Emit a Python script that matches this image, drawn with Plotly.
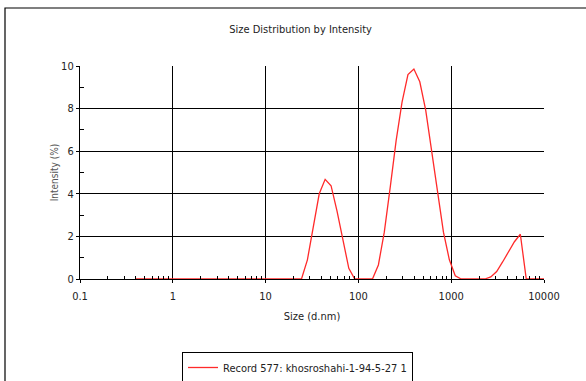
import plotly.graph_objects as go

sizes = [0.4, 0.4632, 0.5365, 0.6213, 0.7195, 0.8332, 0.9649, 1.117, 1.294, 1.499,
         1.736, 2.010, 2.328, 2.696, 3.122, 3.615, 4.187, 4.849, 5.615, 6.503,
         7.531, 8.721, 10.10, 11.70, 13.54, 15.69, 18.17, 21.04, 24.36, 28.21,
         32.67, 37.84, 43.82, 50.75, 58.77, 68.06, 78.82, 91.28, 105.7, 122.4,
         141.8, 164.2, 190.1, 220.2, 255.0, 295.3, 342.0, 396.1, 458.7, 531.2,
         615.1, 712.4, 825.0, 955.4, 1106, 1281, 1484, 1718, 1990, 2305,
         2669, 3091, 3580, 4145, 4801, 5560, 6439, 7456, 8635, 10000]
intensity = [0, 0, 0, 0, 0, 0, 0, 0, 0, 0,
             0, 0, 0, 0, 0, 0, 0, 0, 0, 0,
             0, 0, 0, 0, 0, 0, 0, 0, 0, 0.9,
             2.4, 4.0, 4.68, 4.38, 3.2, 1.9, 0.5, 0, 0, 0,
             0, 0.66, 2.2, 4.3, 6.5, 8.3, 9.6, 9.86, 9.26, 7.93,
             6.0, 4.0, 2.2, 0.9, 0.15, 0, 0, 0, 0, 0,
             0.1, 0.35, 0.8, 1.3, 1.75, 2.1, 0, 0, 0, 0]
series_name = "Record 577: khosroshahi-1-94-5-27 1"
x_ticks = [0.1, 1, 10, 100, 1000, 10000]
x_tick_labels = ["0.1", "1", "10", "100", "1000", "10000"]
y_ticks = [0, 2, 4, 6, 8, 10]

FONT = "Liberation Sans Narrow, DejaVu Sans Condensed, Liberation Sans, Arial, sans-serif"

fig = go.Figure()
fig.add_trace(go.Scatter(x=sizes, y=intensity, mode="lines", name=series_name,
                         line=dict(color="#ff2a2a", width=1.3), showlegend=True))

x_minor = [m * 10 ** e for e in range(-1, 4) for m in range(2, 10)]

PW, PH = 464, 213
fig.update_layout(
    width=586, height=381,
    margin=dict(l=80, r=42, t=66, b=102, autoexpand=False),
    paper_bgcolor="white", plot_bgcolor="white",
    font=dict(family=FONT, size=11, color="#222"),
    title=dict(text="Size Distribution by Intensity", x=0.513, xanchor="center",
               y=1 - 29 / 381, yanchor="middle", font=dict(size=11, color="#222")),
    showlegend=True,
    legend=dict(x=(182 - 80) / PW, y=(279 - 352) / PH, xanchor="left", yanchor="top",
                bordercolor="black", borderwidth=1, bgcolor="white",
                font=dict(size=11, color="#222"), tracegroupgap=0,
                itemwidth=30),
    xaxis=dict(type="log", range=[-1, 4], tickvals=x_ticks, ticktext=x_tick_labels,
               showgrid=True, gridcolor="black", gridwidth=1.2,
               showline=True, linecolor="black", linewidth=1.2,
               ticks="outside", ticklen=3, tickcolor="black",
               ticklabelstandoff=4,
               zeroline=False,
               minor=dict(tickvals=x_minor, ticks="inside", ticklen=3, tickcolor="black",
                          showgrid=False),
               title=dict(text="Size (d.nm)", standoff=10, font=dict(size=11, color="#222"))),
    yaxis=dict(range=[0, 10], tickvals=y_ticks,
               showgrid=True, gridcolor="black", gridwidth=1.2,
               showline=True, linecolor="black", linewidth=1.2,
               ticks="outside", ticklen=3, tickcolor="black",
               zeroline=False,
               minor=dict(tick0=1, dtick=2, ticks="inside", ticklen=4, tickcolor="black",
                          showgrid=False),
               title=dict(text="Intensity (%)", standoff=0, font=dict(size=10, color="#555"))),
    shapes=[dict(type="rect", xref="paper", yref="paper",
                 x0=(5 - 80) / PW, x1=(600 - 80) / PW,
                 y0=(279 - 400) / PH, y1=(279 - 8) / PH,
                 line=dict(color="black", width=1.2), layer="below")],
)

fig.write_html("out.html", config={"displayModeBar": False},
               post_script="document.body.style.margin='0px';")
